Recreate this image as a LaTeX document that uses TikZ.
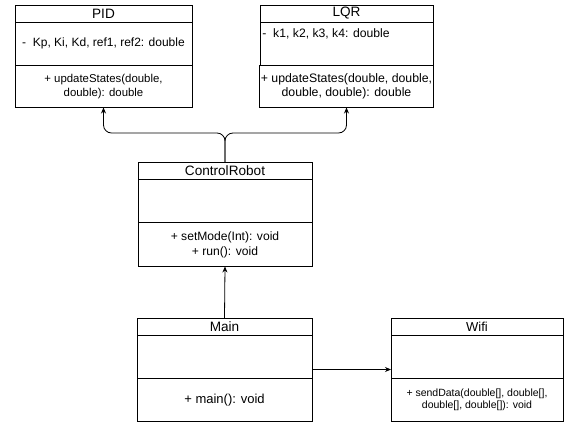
\documentclass[tikz,border=0pt]{standalone}
\usepackage{fontspec}
\setmainfont{Liberation Sans}
\usetikzlibrary{arrows.meta,positioning,calc}
\begin{document}
\begin{tikzpicture}[node distance=0pt, >={Stealth[length=6pt,width=5pt]}, x=1pt, y=1pt, line width=0.8pt]
\tikzstyle{ttl}=[draw, outer sep=0pt, minimum width=175pt, minimum height=17pt, inner sep=0pt, font=\fontsize{13.6}{15}\selectfont]
\tikzstyle{sect}=[draw, outer sep=0pt, minimum width=175pt, minimum height=43.5pt, inner sep=1pt, align=center, font=\fontsize{12}{14}\selectfont]
\useasboundingbox (0,0) rectangle (566,-423);

\node[ttl, minimum width=177pt, anchor=north west] (pidT) at (15,-5) {PID};
\node[sect, minimum width=177pt, below=of pidT] (pidA) {-\ \ Kp, Ki, Kd, ref1, ref2: double};
\node[sect, minimum width=177pt, minimum height=42pt, below=of pidA, font=\fontsize{11.4}{13.5}\selectfont] (pidM) {+ updateStates(double,\\double): double};

\node[ttl, minimum width=173pt, anchor=north west] (lqrT) at (260,-5) {LQR};
\node[sect, minimum width=173pt, below=of lqrT] (lqrA) {};
\node[anchor=north west, inner xsep=2pt, inner ysep=6pt, font=\fontsize{12.2}{14}\selectfont] (lqrV) at (lqrA.north west) {-\ \ k1, k2, k3, k4: double};
\node[sect, minimum width=173pt, minimum height=42pt, below=of lqrA, font=\fontsize{12.3}{13.8}\selectfont] (lqrM) {+ updateStates(double, double,\\double, double): double};

\node[ttl, minimum width=174pt, anchor=north west] (crT) at (138,-162) {ControlRobot};
\node[sect, minimum width=174pt, below=of crT] (crA) {};
\node[sect, minimum width=174pt, minimum height=44pt, below=of crA, font=\fontsize{12.1}{15}\selectfont] (crM) {+ setMode(Int): void\\+ run(): void};

\node[ttl, anchor=north west] (mainT) at (137,-318) {Main};
\node[sect, below=of mainT] (mainA) {};
\node[sect, minimum height=43pt, below=of mainA, font=\fontsize{13}{15}\selectfont] (mainM) {+ main(): void};

\node[ttl, minimum width=172pt, anchor=north west, font=\fontsize{13}{15}\selectfont] (wifiT) at (391,-318) {Wifi};
\node[sect, minimum width=172pt, below=of wifiT] (wifiA) {};
\node[sect, minimum width=172pt, minimum height=43pt, below=of wifiA, font=\fontsize{10.5}{11.5}\selectfont] (wifiM) {+ sendData(double[], double[],\\double[], double[]): void};

% connectors
\coordinate (fork) at ($(crT.north)+(0,29)$);
\draw[->, rounded corners=8pt] (crT.north) |- (pidM.south |- fork) -- (pidM.south);
\draw[->, rounded corners=8pt] (crT.north) |- (lqrM.south |- fork) -- (lqrM.south);
\draw[->] (mainT.north) -- (crM.south);
\coordinate (link) at ($(mainA.south east)+(0,9)$);
\draw[->] (link) -- (link -| wifiA.west);
\end{tikzpicture}
\end{document}
